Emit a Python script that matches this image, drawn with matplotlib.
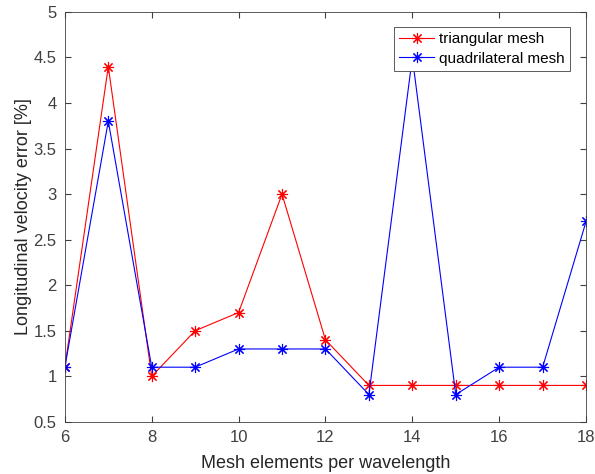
import numpy as np
import matplotlib.pyplot as plt

plt.rcParams['font.family'] = ['Liberation Sans', 'DejaVu Sans']

x = [6, 7, 8, 9, 10, 11, 12, 13, 14, 15, 16, 17, 18]
tri = [1.1, 4.4, 1.0, 1.5, 1.7, 3.0, 1.4, 0.9, 0.9, 0.9, 0.9, 0.9, 0.9]
quad = [1.1, 3.8, 1.1, 1.1, 1.3, 1.3, 1.3, 0.8, 4.5, 0.8, 1.1, 1.1, 2.7]

star = (8, 2, 0)  # matlab-like asterisk
fig = plt.figure(figsize=(5.95, 4.74), dpi=100)
ax = fig.add_axes([0.109, 0.11, 0.876, 0.865])
ax.plot(x, tri, color="red", marker=star, lw=0.8, ms=8, mew=0.8, label="triangular mesh")
ax.plot(x, quad, color="blue", marker=star, lw=0.8, ms=8, mew=0.8, label="quadrilateral mesh")

ax.set_xlim(6, 18)
ax.set_ylim(0.5, 5)
ax.set_xticks(np.arange(6, 19, 2))
ax.set_yticks(np.arange(0.5, 5.01, 0.5))
ax.set_yticklabels(["0.5", "1", "1.5", "2", "2.5", "3", "3.5", "4", "4.5", "5"])
ax.tick_params(direction="in", top=True, right=True, labelsize=12, colors="#404040", length=4, pad=6)
for s in ax.spines.values():
    s.set_color("#404040")
    s.set_linewidth(0.6)
ax.set_xlabel("Mesh elements per wavelength", fontsize=13, color="#262626", labelpad=7)
ax.set_ylabel("Longitudinal velocity error [%]", fontsize=13, color="#262626", labelpad=1)
leg = ax.legend(loc="upper right", bbox_to_anchor=(0.969, 0.963), fontsize=11,
                fancybox=False, framealpha=1, edgecolor="#404040", borderpad=0.35,
                handlelength=2.3, handletextpad=0.3, labelspacing=0.35, borderaxespad=0)
leg.get_frame().set_linewidth(0.6)

plt.savefig("out.png", dpi=100)
